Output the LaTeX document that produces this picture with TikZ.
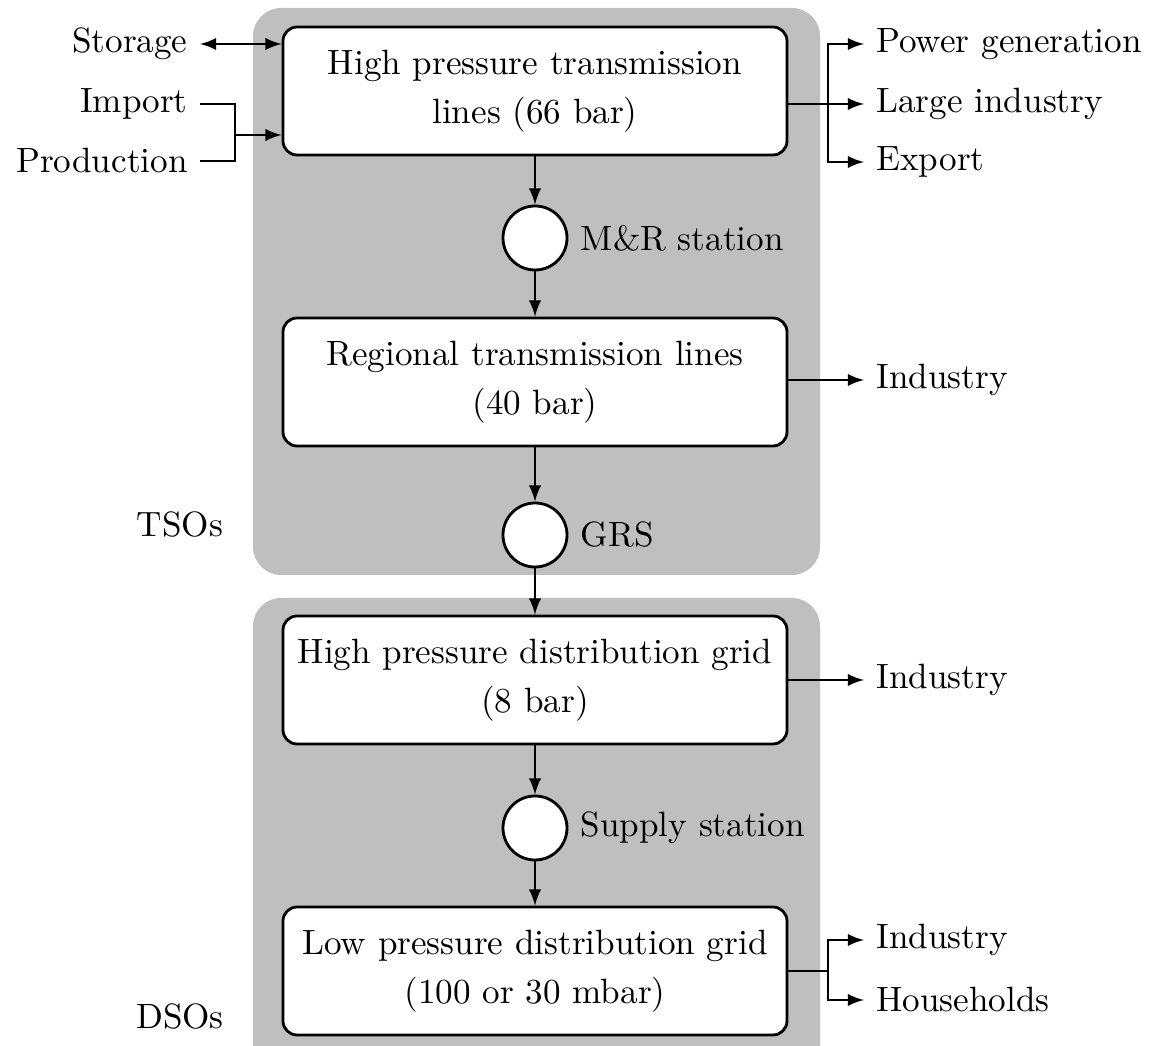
\documentclass[tikz,border=0pt]{standalone}
\usetikzlibrary{positioning}

\tikzset{
  operator/.style={fill=black!25, rounded corners=8pt},
  net/.style={draw, thick, fill=white, rounded corners=4pt, minimum width=5.04cm,
    minimum height=1.28cm, align=center},
  station/.style={draw, thick, fill=white, circle, minimum size=0.64cm, inner sep=0pt},
  flow/.style={->, line width=0.6pt},
  pipe/.style={line width=0.6pt},
}

\begin{document}
\begin{tikzpicture}[>=latex]
  \clip (0,0) rectangle (11.51,-10.46);
  % operator areas
  \fill[operator] (2.53,-0.08) rectangle (8.20,-5.75);
  \fill[operator] (2.53,-5.98) rectangle (8.20,-10.80);
  \node (tsos) at (1.80,-5.25) {TSOs};
  \node (dsos) at (1.80,-10.17) {DSOs};

  % grid levels and stations
  \node[net] (hptl) at (5.35,-0.91) {High pressure transmission\\[2pt] lines (66 bar)};
  \node[station] (mr) at (5.35,-2.38) {};
  \node[right=0cm of mr] (mrlbl) {M\&R station};
  \node[net] (rtl) at (5.35,-3.82) {Regional transmission lines\\[2pt] (40 bar)};
  \node[station] (grs) at (5.35,-5.35) {};
  \node[right=0cm of grs] (grslbl) {GRS};
  \node[net] (hpdg) at (5.35,-6.80) {High pressure distribution grid\\[2pt] (8 bar)};
  \node[station] (supply) at (5.35,-8.28) {};
  \node[right=0cm of supply] (supplylbl) {Supply station};
  \node[net] (lpdg) at (5.35,-9.71) {Low pressure distribution grid\\[2pt] (100 or 30 mbar)};

  \draw[flow] (hptl) -- (mr);
  \draw[flow] (mr) -- (rtl);
  \draw[flow] (rtl) -- (grs);
  \draw[flow] (grs) -- (hpdg);
  \draw[flow] (hpdg) -- (supply);
  \draw[flow] (supply) -- (lpdg);

  % inputs
  \node[anchor=east] (storage) at (2.00,-0.44) {Storage};
  \node[anchor=east] (import) at (2.00,-1.04) {Import};
  \node[anchor=east] (production) at (2.00,-1.61) {Production};
  \draw[<->, pipe] (storage.east) -- (storage.east -| hptl.west);
  \coordinate (join) at (2.35,-1.35);
  \draw[pipe] (import.east) -| (join);
  \draw[pipe] (production.east) -| (join);
  \draw[flow] (join) -- (join -| hptl.west);

  % outputs
  \node[anchor=west] (powergen) at (8.64,-0.44) {Power generation};
  \node[anchor=west] (largeind) at (8.64,-1.04) {Large industry};
  \node[anchor=west] (export) at (8.64,-1.62) {Export};
  \coordinate (fan1) at (8.28,-1.04);
  \draw[pipe] (fan1 -| hptl.east) -- (fan1);
  \draw[flow] (fan1) |- (powergen.west);
  \draw[flow] (fan1) -- (largeind.west);
  \draw[flow] (fan1) |- (export.west);

  \node[anchor=west] (ind1) at (8.64,-3.80) {Industry};
  \draw[flow] (ind1.west -| rtl.east) -- (ind1.west);
  \node[anchor=west] (ind2) at (8.64,-6.80) {Industry};
  \draw[flow] (hpdg.east) -- (ind2.west);

  \node[anchor=west] (ind3) at (8.64,-9.40) {Industry};
  \node[anchor=west] (households) at (8.64,-10.00) {Households};
  \coordinate (fan2) at (8.28,-9.71);
  \draw[pipe] (lpdg.east) -- (fan2);
  \draw[flow] (fan2) |- (ind3.west);
  \draw[flow] (fan2) |- (households.west);
\end{tikzpicture}
\end{document}
